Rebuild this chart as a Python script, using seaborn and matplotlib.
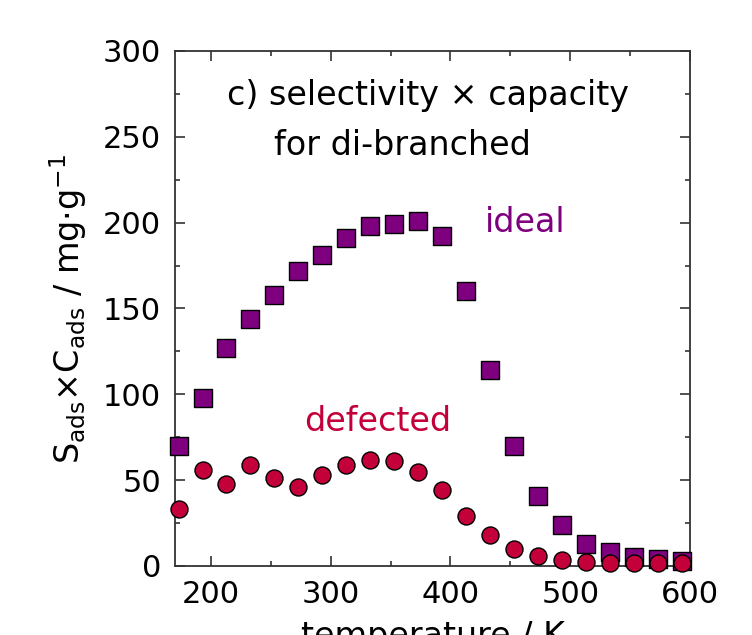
import numpy as np
import pandas as pd
import matplotlib
matplotlib.use("Agg")
import matplotlib.pyplot as plt
import seaborn as sns
from matplotlib.ticker import MultipleLocator

# temperatures (K)
temperature = [173, 193, 213, 233, 253, 273, 293, 313, 333, 353, 373,
               393, 413, 433, 453, 473, 493, 513, 533, 553, 573, 593]
# S_ads x C_ads, ideal framework
ideal = [70, 98, 127, 144, 158, 172, 181, 191, 198, 199, 201,
         192, 160, 114, 70, 41, 24, 13, 8, 5, 4, 3]
# S_ads x C_ads, defected framework
defected = [33, 56, 48, 59, 51, 46, 53, 59, 62, 61, 55,
            44, 29, 18, 10, 6, 3.5, 2.2, 2, 1.5, 1.5, 1.5]

purple = "#7f007f"
crimson = "#c4003a"

sns.set_theme(style="ticks")
plt.rcParams['font.family'] = ['DejaVu Sans']
plt.rcParams['text.color'] = 'black'
plt.rcParams['axes.labelcolor'] = 'black'
plt.rcParams['xtick.labelcolor'] = 'black'
plt.rcParams['ytick.labelcolor'] = 'black'

df_ideal = pd.DataFrame({"T": temperature, "v": ideal})
df_def = pd.DataFrame({"T": temperature, "v": defected})

fig = plt.figure(figsize=(7.52, 6.35), dpi=100)
ax = fig.add_axes([0.2327, 0.1087, 0.6849, 0.811])

sns.scatterplot(data=df_ideal, x="T", y="v", marker="s", s=150, color=purple,
                edgecolor="black", linewidth=1.0, ax=ax, zorder=3, clip_on=False)
sns.scatterplot(data=df_def, x="T", y="v", marker="o", s=150, color=crimson,
                edgecolor="black", linewidth=1.0, ax=ax, zorder=4, clip_on=False)

ax.set_xlim(170, 600)
ax.set_ylim(0, 300)
ax.xaxis.set_major_locator(MultipleLocator(100))
ax.xaxis.set_minor_locator(MultipleLocator(50))
ax.yaxis.set_major_locator(MultipleLocator(50))
ax.yaxis.set_minor_locator(MultipleLocator(25))
ax.tick_params(which="both", direction="in", top=True, right=True,
               color="#333333", width=1.2, labelsize=22, pad=10)
ax.tick_params(which="major", length=7)
ax.tick_params(which="minor", length=3.5)
for sp in ax.spines.values():
    sp.set_linewidth(1.3)
    sp.set_color("#333333")

ax.set_xlabel("temperature / K", fontsize=24, labelpad=8)
ax.set_ylabel(r"$\mathrm{S_{ads}{\times}C_{ads}}$ / mg$\cdot$g$^{-1}$", fontsize=24, labelpad=10)

ax.text(381, 274, "c) selectivity × capacity", fontsize=24, ha="center", va="center")
ax.text(360, 245, "for di-branched", fontsize=24, ha="center", va="center")
ax.text(462, 200, "ideal", fontsize=24, color=purple, ha="center", va="center")
ax.text(339, 84, "defected", fontsize=24, color=crimson, ha="center", va="center")

fig.savefig("out.png", dpi=100)
